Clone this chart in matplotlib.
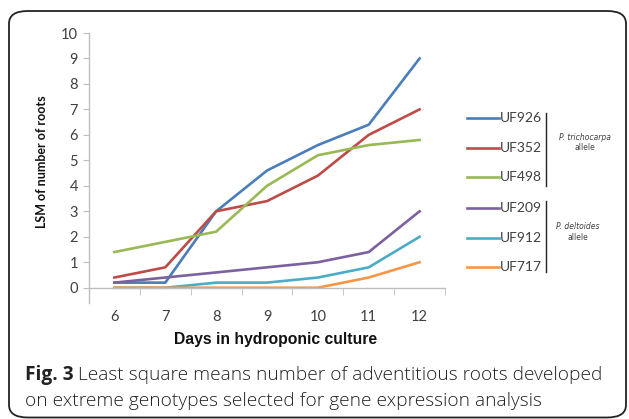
import numpy as np
import matplotlib
matplotlib.use("Agg")
import matplotlib.pyplot as plt
from matplotlib.patches import FancyBboxPatch
from matplotlib.lines import Line2D

days = [6, 7, 8, 9, 10, 11, 12]
genotypes = ["UF926", "UF352", "UF498", "UF209", "UF912", "UF717"]
uf926 = [0.2, 0.2, 3.0, 4.6, 5.6, 6.4, 9.0]
uf352 = [0.4, 0.8, 3.0, 3.4, 4.4, 6.0, 7.0]
uf498 = [1.4, 1.8, 2.2, 4.0, 5.2, 5.6, 5.8]
uf209 = [0.2, 0.4, 0.6, 0.8, 1.0, 1.4, 3.0]
uf912 = [0.0, 0.0, 0.2, 0.2, 0.4, 0.8, 2.0]
uf717 = [0.0, 0.0, 0.0, 0.0, 0.0, 0.4, 1.0]
series = [uf926, uf352, uf498, uf209, uf912, uf717]
colors = ["#4A7EBB", "#BE4B48", "#98B954", "#7D60A0", "#4BACC6", "#F79646"]
y_ticks = list(range(0, 11))

W, H = 629, 419
fig = plt.figure(figsize=(W / 100, H / 100), dpi=100)

# rounded frame around the figure panel
frame = FancyBboxPatch((9 / W, 1.5 / H), 617 / W, 1 - 12.5 / H,
                       boxstyle="round,pad=0,rounding_size=0.03",
                       transform=fig.transFigure, fill=False,
                       edgecolor="#222222", linewidth=1.3, clip_on=False)
fig.patches.append(frame)

ax = fig.add_axes([89 / W, (H - 303) / H, 356 / W, 270 / H])
for vals, col in zip(series, colors):
    ax.plot(days, vals, color=col, linewidth=1.9, solid_joinstyle="round")

ax.set_xlim(5.5, 12.5)
ax.set_ylim(-0.6, 10)
ax.set_yticks(y_ticks)
ax.set_xticks(days)
ax.set_xticks(np.arange(5.5, 13, 1), minor=True)

for s in ["top", "right"]:
    ax.spines[s].set_visible(False)
ax.spines["bottom"].set_position(("data", 0))
for s in ["left", "bottom"]:
    ax.spines[s].set_color("#BFBFBF")
    ax.spines[s].set_linewidth(1.0)

ax.tick_params(axis="y", length=4, color="#BFBFBF", labelsize=10.5,
               labelcolor="#404040", pad=4)
ax.tick_params(axis="x", which="major", length=0, labelsize=10.5,
               labelcolor="#404040", pad=16)
ax.tick_params(axis="x", which="minor", length=5, color="#BFBFBF",
               direction="out")
for lab in ax.get_xticklabels() + ax.get_yticklabels():
    lab.set_family(["Lato", "DejaVu Sans"])

fig.text(42 / W, 1 - 162 / H, "LSM of number of roots", fontsize=9,
         fontweight="bold", family=["Lato", "DejaVu Sans"], rotation=90,
         ha="center", va="center", color="#111111")
fig.text(276 / W, 1 - 339 / H, "Days in hydroponic culture", fontsize=11.3,
         fontweight="bold", family="Liberation Sans", ha="center", va="center",
         color="#111111")

# legend drawn by hand, grouped with brackets
rows_y = [118, 148, 177, 208, 238, 267]
for name, col, ry in zip(genotypes, colors, rows_y):
    fy = 1 - ry / H
    fig.add_artist(Line2D([467 / W, 499 / W], [fy, fy], color=col,
                          linewidth=1.9, transform=fig.transFigure))
    fig.text(500 / W, fy, name, fontsize=10, family=["Lato", "DejaVu Sans"],
             color="#404040", ha="left", va="center")

for y0, y1 in [(113, 186), (201, 272)]:
    fig.add_artist(Line2D([546 / W, 546 / W], [1 - y0 / H, 1 - y1 / H],
                          color="#222222", linewidth=1.0,
                          transform=fig.transFigure))

fig.text(585 / W, 1 - 138 / H, "P. trichocarpa", fontsize=5.5, style="italic",
         color="#404040", ha="center", va="center")
fig.text(585 / W, 1 - 148 / H, "allele", fontsize=5.5, color="#404040",
         ha="center", va="center")
fig.text(578 / W, 1 - 226 / H, "P. deltoides", fontsize=5.5, style="italic",
         color="#404040", ha="center", va="center")
fig.text(578 / W, 1 - 237 / H, "allele", fontsize=5.5, color="#404040",
         ha="center", va="center")

# caption
cap_font = ["Open Sans", "DejaVu Sans"]
t1 = fig.text(25 / W, 1 - 375 / H, "Fig. 3", fontsize=13.8, fontweight="bold",
              family=cap_font, color="#222222", ha="left", va="center")
fig.canvas.draw()
bb = t1.get_window_extent()
fig.text(bb.x1 / W + 4 / W, 1 - 375 / H,
         "Least square means number of adventitious roots developed",
         fontsize=13.8, family=cap_font, color="#222222", ha="left",
         va="center", fontweight="light")
fig.text(25 / W, 1 - 401 / H,
         "on extreme genotypes selected for gene expression analysis",
         fontsize=13.8, family=cap_font, color="#222222", ha="left",
         va="center", fontweight="light")

fig.savefig("out.png", dpi=100)
